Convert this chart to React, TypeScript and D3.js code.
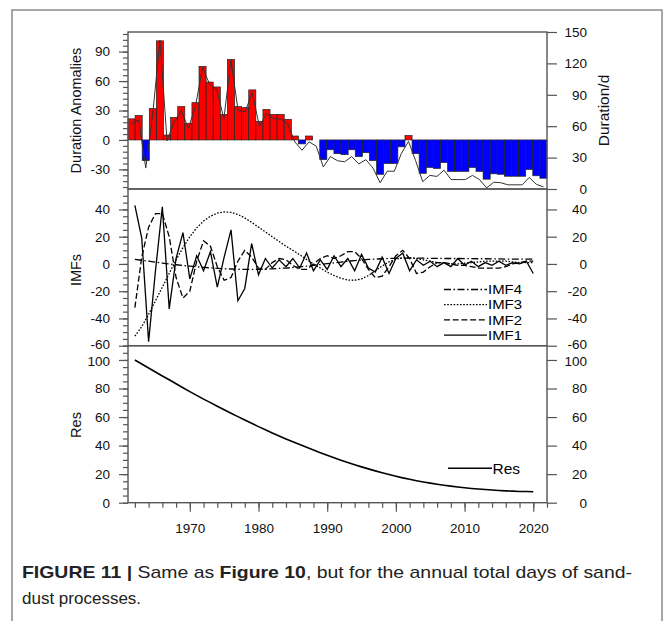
import React, { useEffect, useRef } from 'react';
import * as d3 from 'd3';

// years 1962-2020
const years = d3.range(1962, 2021);

// duration anomalies (bars, left axis)
const anomalies = [
  21.5, 25, -21, 32, 101, 5, 23, 34, 17, 38,
  75, 59, 54, 26, 82, 34, 33, 51, 19, 31,
  26, 26, 21, 4, -4, 4, 0, -20, -10, -14,
  -15, -10, -17, -13, -21, -35, -24, -24, -7, 4.5,
  -14, -34, -28, -29, -23, -32, -32, -32, -28, -32,
  -40, -34.5, -35, -37, -37, -37, -30, -36.5, -39,
];

// duration in days (line, right axis)
const duration = [
  62.5, 66, 20, 73, 142, 46, 64, 75, 58, 79,
  116, 100, 95, 67, 123, 75, 74, 92, 60, 72,
  67, 67, 62, 45, 37, 45, 41, 21, 31, 27,
  26, 31, 24, 28, 20, 6, 17, 17, 34, 45.5,
  27, 7, 13, 12, 18, 9, 9, 9, 13, 9,
  1, 6.5, 6, 4, 4, 4, 11, 4.5, 2,
];

const imf1 = [
  43, 19, -57, -5, 42, -33, 4, 23, -11, 6,
  -5, 9, -17, 5, 25, -27, -18, 15, -8, 4,
  -3, 3, -2, 4, -3, 8, -5, 3, -4, 6,
  -2, 4, -5, 7, -3, -6, 5, -7, 4, 8,
  -5, 3, -1, 2, -2, 1, -2, 4, -1, 2,
  -2, 1, -1, 2, -1, 1, 0, 2, -7,
];

const imf2 = [
  -32, 5, 27, 37, 37, 20, -10, -25, -20, 2,
  17, 13, -2, -12, -10, 2, 10, 5, -3, -4,
  1, 4, 3, -1, -4, -4, 0, 4, 6, 4,
  6, 9, 9, 4, -4, -10, -9, -2, 6, 10,
  4, -7, -6, -2, 1, 1, 0, -1, -1, -2,
  -3, -3, -3, -3, -2, 0, 1, 2, 2,
];

const imf3 = [
  -53, -46, -37, -27, -17, -7, 3, 12, 20, 26.5,
  31.5, 35, 37.3, 38.2, 37.8, 36.3, 33.8, 30.5, 27, 23.5,
  20, 16.5, 13, 10, 6.7, 3.3, 0, -3, -6, -8.5,
  -10.5, -11.8, -12, -11, -8.5, -5, -1.5, 1.5, 3.5, 4.5,
  4.5, 4, 3, 2, 1, 0.5, 0, 0, 0.5, 1,
  1.5, 2, 2, 2, 2, 1.5, 1, 1, 1,
];

const imf4 = [
  3.4, 2.7, 2, 1.3, 0.6, 0, -0.6, -1.1, -1.6, -2.1,
  -2.5, -2.9, -3.2, -3.5, -3.7, -3.9, -4, -4, -3.9, -3.8,
  -3.6, -3.3, -3, -2.6, -2.1, -1.6, -1, -0.4, 0.2, 0.8,
  1.4, 2, 2.5, 2.9, 3.3, 3.6, 3.8, 4, 4.1, 4.2,
  4.2, 4.2, 4.2, 4.1, 4.1, 4, 4, 4, 3.9, 3.9,
  3.8, 3.8, 3.7, 3.7, 3.6, 3.6, 3.5, 3.5, 3.5,
];

const res = [
  100, 97.2, 94.4, 91.6, 88.8, 86.1, 83.3, 80.5, 77.8, 75.2,
  72.6, 70.1, 67.6, 65.1, 62.7, 60.3, 57.9, 55.6, 53.3, 51.1,
  48.9, 46.8, 44.7, 42.7, 40.7, 38.8, 36.9, 35, 33.2, 31.5,
  29.8, 28.2, 26.6, 25.1, 23.7, 22.3, 21, 19.7, 18.5, 17.4,
  16.4, 15.4, 14.5, 13.7, 12.9, 12.2, 11.6, 11, 10.5, 10,
  9.6, 9.2, 8.9, 8.6, 8.3, 8.1, 7.9, 7.8, 7.7,
];

const imfSeries = [
  { name: 'IMF4', values: imf4, dash: '7,2.5,1.5,2.5' },
  { name: 'IMF3', values: imf3, dash: '1.6,1.6' },
  { name: 'IMF2', values: imf2, dash: '6,2.7' },
  { name: 'IMF1', values: imf1, dash: null },
];

const topLeftTicks = [-30, 0, 30, 60, 90];
const topRightTicks = [0, 30, 60, 90, 120, 150];
const midTicks = [-60, -40, -20, 0, 20, 40];
const resTicks = [0, 20, 40, 60, 80, 100];
const yearTicks = [1970, 1980, 1990, 2000, 2010, 2020];

const W = 665, H = 621;
const left = 128, right = 547;
const p1 = { top: 32, bottom: 189 };
const p2 = { top: 189, bottom: 345.7 };
const p3 = { top: 345.7, bottom: 502.7 };
const FONT = '"Liberation Sans", Arial, Helvetica, sans-serif';
const AXIS = '#555';
const fmt = (d: any) => String(d);

export default function App() {
  const svgRef = useRef<SVGSVGElement>(null);

  useEffect(() => {
    const svg = d3.select(svgRef.current);
    svg.selectAll('*').remove();

    // frame around figure
    svg.append('rect')
      .attr('x', 12).attr('y', 10).attr('width', 650).attr('height', 640)
      .attr('fill', 'none').attr('stroke', '#8a8a8a').attr('stroke-width', 1.5);

    const xBar = d3.scaleBand<number>().domain(years).range([left, right]).paddingInner(0);
    const xLine = d3.scaleLinear().domain([1961, 2022]).range([left, right]);

    const yAnom = d3.scaleLinear().domain([-50, 110]).range([p1.bottom, p1.top]);
    const yDur = d3.scaleLinear().domain([0, 150]).range([p1.bottom, p1.top]);
    const yImf = d3.scaleLinear().domain([-60, 55]).range([p2.bottom, p2.top]);
    const yRes = d3.scaleLinear().domain([0, 110]).range([p3.bottom, p3.top]);

    // labels that sit where two panels meet are nudged apart a little
    const nudge = (g: any, value: number, dy: number) =>
      g.selectAll('text').filter((d: any) => d === value).attr('y', dy);

    const styleAxis = (g: any, anchorEnd = false, dx = 0) => {
      g.select('.domain').remove();
      g.selectAll('line').attr('stroke', AXIS).attr('stroke-width', 1.2);
      g.selectAll('text').attr('fill', '#111').attr('font-size', 13.5).attr('font-family', FONT);
      if (anchorEnd) g.selectAll('text').attr('text-anchor', 'end').attr('x', dx);
    };

    const leftAxis = (y: any, major: number[], minor: number[], edge?: [number, number]) => {
      svg.append('g').attr('transform', `translate(${left},0)`)
        .call(d3.axisLeft(y).tickValues(minor).tickSize(5).tickFormat(() => ''))
        .call((g: any) => styleAxis(g));
      svg.append('g').attr('transform', `translate(${left},0)`)
        .call(d3.axisLeft(y).tickValues(major).tickSize(9).tickPadding(9).tickFormat(fmt))
        .call((g: any) => { styleAxis(g); if (edge) nudge(g, edge[0], edge[1]); });
    };
    const rightAxis = (y: any, major: number[], edge?: [number, number]) => {
      svg.append('g').attr('transform', `translate(${right},0)`)
        .call(d3.axisRight(y).tickValues(major).tickSize(10).tickFormat(fmt))
        .call((g: any) => { styleAxis(g, true, 40); if (edge) nudge(g, edge[0], edge[1]); });
    };

    // ---- panel 1: bars + duration line
    const g1 = svg.append('g');
    g1.selectAll('rect.bar')
      .data(anomalies)
      .join('rect')
      .attr('class', 'bar')
      .attr('x', (_d, i) => xBar(years[i]) as number)
      .attr('width', xBar.bandwidth())
      .attr('y', (d) => yAnom(Math.max(0, d)))
      .attr('height', (d) => Math.abs(yAnom(d) - yAnom(0)))
      .attr('fill', (d) => (d >= 0 ? '#ff0000' : '#0000ff'))
      .attr('stroke', '#222')
      .attr('stroke-width', 0.7);
    g1.append('path')
      .datum(duration)
      .attr('fill', 'none')
      .attr('stroke', '#333')
      .attr('stroke-width', 1)
      .attr('d', d3.line<number>()
        .x((_d, i) => (xBar(years[i]) as number) + xBar.bandwidth() / 2)
        .y((d) => yDur(d)));

    leftAxis(yAnom, topLeftTicks, d3.range(-48, 110, 6));
    rightAxis(yDur, topRightTicks);

    // ---- panel 2: IMFs
    const g2 = svg.append('g');
    imfSeries.forEach((s) => {
      g2.append('path')
        .datum(s.values)
        .attr('fill', 'none')
        .attr('stroke', '#000')
        .attr('stroke-width', 1.3)
        .attr('stroke-dasharray', s.dash)
        .attr('d', d3.line<number>().x((_d, i) => xLine(years[i])).y((d) => yImf(d)));
    });
    leftAxis(yImf, midTicks, d3.range(-60, 55, 5), [-60, -1.5]);
    rightAxis(yImf, midTicks, [-60, -1.5]);

    // legend IMFs
    imfSeries.forEach((s, i) => {
      const ly = 289.5 + i * 15.2;
      g2.append('line').attr('x1', 444).attr('x2', 487).attr('y1', ly).attr('y2', ly)
        .attr('stroke', '#000').attr('stroke-width', 1.3).attr('stroke-dasharray', s.dash);
      g2.append('text').attr('x', 488).attr('y', ly).attr('dy', '0.36em')
        .attr('font-family', FONT).attr('font-size', 13.2)
        .attr('textLength', 34).attr('lengthAdjust', 'spacingAndGlyphs')
        .text(s.name);
    });

    // ---- panel 3: Res
    const g3 = svg.append('g');
    g3.append('path')
      .datum(res)
      .attr('fill', 'none')
      .attr('stroke', '#000')
      .attr('stroke-width', 1.6)
      .attr('d', d3.line<number>().x((_d, i) => xLine(years[i])).y((d) => yRes(d)));
    g3.append('line').attr('x1', 448).attr('x2', 492).attr('y1', 468.3).attr('y2', 468.3)
      .attr('stroke', '#000').attr('stroke-width', 1.6);
    g3.append('text').attr('x', 492.5).attr('y', 468.3).attr('dy', '0.36em')
      .attr('font-family', FONT).attr('font-size', 15.5).text('Res');
    leftAxis(yRes, resTicks, d3.range(0, 111, 5), [100, 1.5]);
    rightAxis(yRes, resTicks, [100, 1.5]);

    // x axis
    svg.append('g').attr('transform', `translate(0,${p3.bottom})`)
      .call(d3.axisBottom(xLine).tickValues(d3.range(1962, 2023, 2)).tickSize(5).tickFormat(() => ''))
      .call((g: any) => styleAxis(g));
    svg.append('g').attr('transform', `translate(0,${p3.bottom})`)
      .call(d3.axisBottom(xLine).tickValues(yearTicks).tickSize(9).tickPadding(12).tickFormat(fmt))
      .call((g: any) => styleAxis(g));

    // panel borders
    [p1, p2, p3].forEach((p) => {
      svg.append('rect')
        .attr('x', left).attr('y', p.top).attr('width', right - left).attr('height', p.bottom - p.top)
        .attr('fill', 'none').attr('stroke', AXIS).attr('stroke-width', 1.4);
    });

    // axis titles
    const title = (x: number, y: number, t: string, fs: number) =>
      svg.append('text')
        .attr('transform', `translate(${x},${y}) rotate(-90)`)
        .attr('text-anchor', 'middle')
        .attr('font-family', FONT)
        .attr('font-size', fs)
        .attr('fill', '#111')
        .text(t);
    title(80.5, 110.5, 'Duration Anomalies', 14.5);
    title(609, 110.5, 'Duration/d', 15.5);
    title(80.5, 270, 'IMFs', 14.5);
    title(80.5, 425, 'Res', 14.5);

    // caption
    const cap = svg.append('text')
      .attr('x', 22).attr('y', 578)
      .attr('font-family', '"Liberation Sans Narrow", "Liberation Sans", Arial, sans-serif')
      .attr('font-size', 17).attr('fill', '#222')
      .attr('textLength', 610).attr('lengthAdjust', 'spacingAndGlyphs');
    cap.append('tspan').attr('font-weight', 'bold').text('FIGURE 11 | ');
    cap.append('tspan').text('Same as ');
    cap.append('tspan').attr('font-weight', 'bold').text('Figure 10');
    cap.append('tspan').text(', but for the annual total days of sand-');
    svg.append('text')
      .attr('x', 22).attr('y', 604)
      .attr('font-family', '"Liberation Sans Narrow", "Liberation Sans", Arial, sans-serif')
      .attr('font-size', 17).attr('fill', '#222')
      .text('dust processes.');
  }, []);

  return (
    <svg
      ref={svgRef}
      width={W}
      height={H}
      style={{ position: 'absolute', left: 0, top: 0, background: '#fff' }}
    />
  );
}
